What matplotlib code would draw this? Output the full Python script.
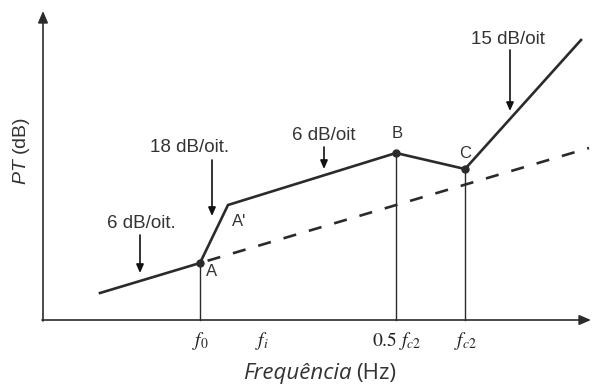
import matplotlib
matplotlib.use("Agg")
import matplotlib.pyplot as plt

# ---- data (chart units: x = frequency position, y = power level) ----
curve_x = [100, 200, 228, 396, 465, 581]
curve_y = [95, 125, 183, 235, 219, 348]
asym_x = [200, 589]
asym_y = [125, 240]
point_names = ["A", "B", "C"]
point_x = [200, 396, 465]
point_y = [125, 235, 219]
tick_pos = [200, 262, 397, 465]
tick_labels = [r"$f_0$", r"$f_i$", r"$0.5\ f_{c2}$", r"$f_{c2}$"]
slope_labels = ["6 dB/oit.", "18 dB/oit.", "6 dB/oit", "15 dB/oit"]

plt.rcParams["mathtext.fontset"] = "custom"
plt.rcParams["mathtext.it"] = "Liberation Sans:italic"
plt.rcParams["mathtext.rm"] = "Liberation Sans"

fig = plt.figure(figsize=(5.94, 3.88), dpi=100)
ax = fig.add_axes([0, 0, 1, 1])
ax.set_xlim(0, 594)
ax.set_ylim(0, 388)
ax.axis("off")

lc = "#2b2b2b"
x0, y0 = 43, 68
# axes with arrows
ax.annotate("", xy=(43, 377), xytext=(43, y0 - 1),
            arrowprops=dict(arrowstyle="-|>,head_width=0.3,head_length=0.7", color=lc, lw=1.2, shrinkA=0, shrinkB=0))
ax.annotate("", xy=(591, y0), xytext=(x0 - 1, y0),
            arrowprops=dict(arrowstyle="-|>,head_width=0.3,head_length=0.7", color=lc, lw=1.2, shrinkA=0, shrinkB=0))

# curves
ax.plot(curve_x, curve_y, color=lc, lw=1.9, solid_joinstyle="miter")
ax.plot(asym_x, asym_y, color=lc, lw=1.9, ls=(7, (5.0, 5.0)))
for px, py in zip(point_x, point_y):
    ax.plot([px, px], [y0, py], color=lc, lw=1.0)
ax.plot(point_x, point_y, "o", color=lc, ms=5)

tf = dict(family="Liberation Sans", color="#333333")
ax.text(212, 116, "A", fontsize=12, ha="center", va="center", **tf)
ax.text(239, 167, "A'", fontsize=12, ha="center", va="center", **tf)
ax.text(397, 254, "B", fontsize=12, ha="center", va="center", **tf)
ax.text(465, 235, "C", fontsize=12, ha="center", va="center", **tf)

# slope labels with arrows
lab_pos = [(141, 165), (190, 240), (324, 253), (508, 348)]
arr = [((140, 153), (140, 115)), ((212, 228), (212, 172)), ((324, 241), (324, 219)), ((510, 338), (510, 277))]
for s, (tx, ty), (a0, a1) in zip(slope_labels, lab_pos, arr):
    ax.text(tx, ty, s, fontsize=13.5, ha="center", va="center", **tf)
    ax.annotate("", xy=a1, xytext=a0,
                arrowprops=dict(arrowstyle="-|>,head_width=0.22,head_length=0.5", color="#111111", lw=1.2,
                                shrinkA=0, shrinkB=0))

for p, l in zip(tick_pos, tick_labels):
    ax.text(p, 47, l, fontsize=14, ha="center", va="center", color="#222222", math_fontfamily="stix")

ax.text(352, 14, "Frequência", fontsize=16, ha="right", va="center",
        family="Open Sans", style="italic", color="#333333")
ax.text(356, 14, "(Hz)", fontsize=16, ha="left", va="center",
        family="Open Sans", color="#333333")
ax.text(21, 237, r"$\mathit{PT}$ (dB)", fontsize=14, rotation=90, ha="center", va="center",
        math_fontfamily="custom", **tf)

fig.savefig("out.png", dpi=100)
